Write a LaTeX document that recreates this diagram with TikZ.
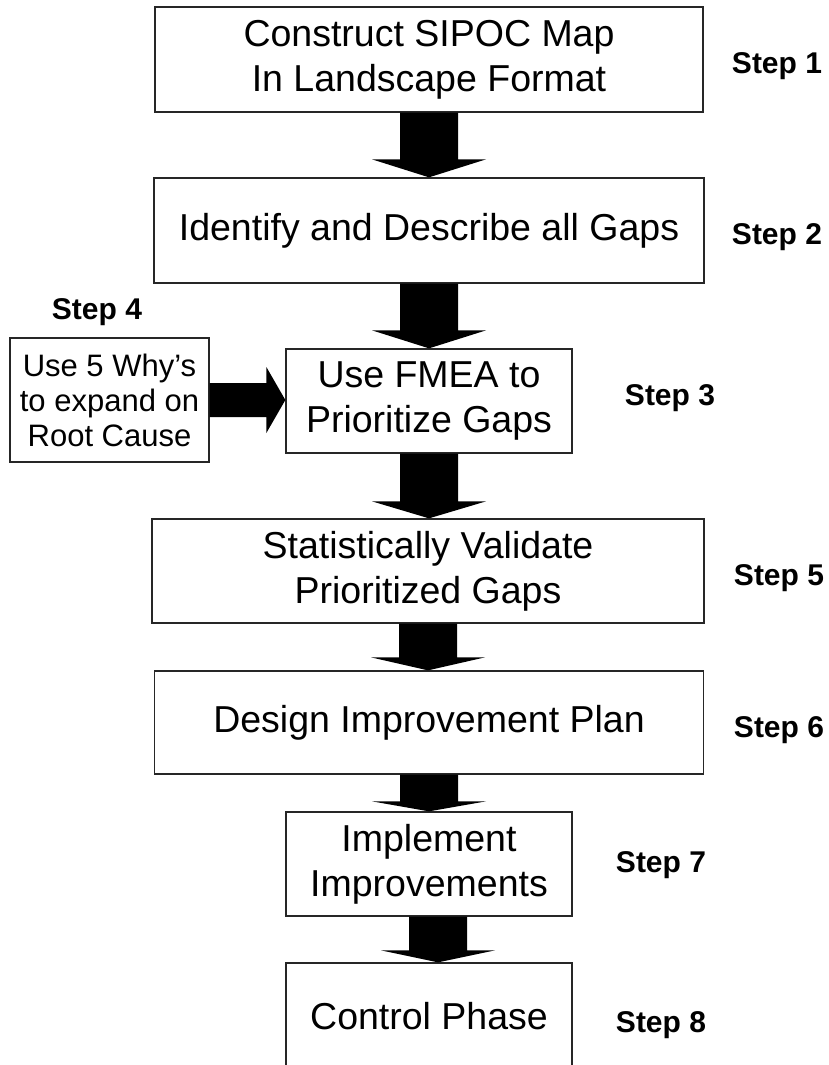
\documentclass[tikz,border=0pt]{standalone}
\usepackage{fontspec}
\setmainfont{Liberation Sans}
\usetikzlibrary{calc}
\tikzset{
  stepbox/.style={draw=black!85, line width=1.3pt, fill=white, align=center,
    font=\fontsize{37.5}{45}\selectfont, inner sep=0pt},
  smallbox/.style={stepbox, font=\fontsize{31}{35}\selectfont},
  steplabel/.style={font=\fontsize{30}{36}\selectfont\bfseries, inner sep=0pt},
  bigarrow/.style={fill=black},
}
\newcommand{\flowdown}[4]{%
  \fill[bigarrow] let \p1=(#1.south), \p2=(#2.north) in
   (\x1+#3-29pt,\y1) -- (\x1+#3+29pt,\y1) -- (\x1+#3+29pt,\y2+#4) --
   (\x1+#3+57pt,\y2+#4) -- (\x1+#3,\y2) -- (\x1+#3-57pt,\y2+#4) --
   (\x1+#3-29pt,\y2+#4) -- cycle;}
\begin{document}
\begin{tikzpicture}[x=1pt,y=-1pt]
\useasboundingbox (0,0) rectangle (828,1065);
\clip (0,0) rectangle (828,1065);
\fill[white] (0,0) rectangle (828,1065);

\node[stepbox, minimum width=548pt, minimum height=105pt] (s1) at (429,59.5)
  {Construct SIPOC Map\\In Landscape Format};
\node[stepbox, minimum width=550pt, minimum height=105pt] (s2) at (429,230.5)
  {Identify and Describe all Gaps};
\node[stepbox, minimum width=286pt, minimum height=104pt] (s3) at (429,401)
  {Use FMEA to\\Prioritize Gaps};
\node[smallbox, minimum width=199pt, minimum height=124pt] (s4) at (109.5,400)
  {Use 5 Why's\\to expand on\\Root Cause};
\node[stepbox, minimum width=552pt, minimum height=104pt] (s5) at (428,571)
  {Statistically Validate\\Prioritized Gaps};
\node[stepbox, minimum width=549pt, minimum height=103pt] (s6) at (429,722.5)
  {Design Improvement Plan};
\node[stepbox, minimum width=286pt, minimum height=104pt] (s7) at (429,864)
  {Implement\\Improvements};
\node[stepbox, minimum width=286pt, minimum height=107pt] (s8) at (429,1016.5)
  {Control Phase};

\node[steplabel] (l1) at (777,66) {Step 1};
\node[steplabel] (l2) at (777,237) {Step 2};
\node[steplabel] (l3) at (670,398) {Step 3};
\node[steplabel] (l4) at (97,312) {Step 4};
\node[steplabel] (l5) at (779,578) {Step 5};
\node[steplabel] (l6) at (779,730) {Step 6};
\node[steplabel] (l7) at (661,865) {Step 7};
\node[steplabel] (l8) at (661,1025) {Step 8};

\flowdown{s1}{s2}{0pt}{18pt}
\flowdown{s2}{s3}{0pt}{18pt}
\flowdown{s3}{s5}{0pt}{17pt}
\flowdown{s5}{s6}{0pt}{13pt}
\flowdown{s6}{s7}{0pt}{10pt}
\flowdown{s7}{s8}{9pt}{12pt}
\fill[bigarrow] let \p1=(s4.east), \p2=(s3.west) in
  (\x1,\y1+17pt) -- (\x2-19pt,\y1+17pt) -- (\x2-19pt,\y1+33pt) -- (\x2,\y1) --
  (\x2-19pt,\y1-33pt) -- (\x2-19pt,\y1-17pt) -- (\x1,\y1-17pt) -- cycle;
\end{tikzpicture}
\end{document}
